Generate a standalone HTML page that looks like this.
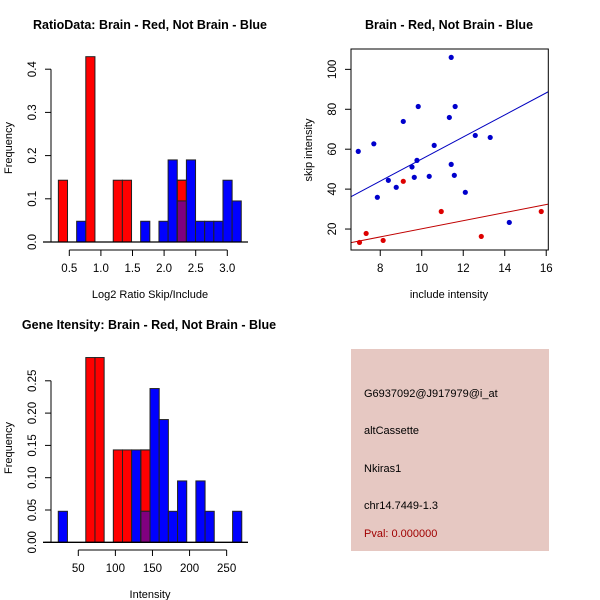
<!DOCTYPE html>
<html><head><meta charset="utf-8"><style>
html,body{margin:0;padding:0;background:#fff;}
svg{display:block;font-family:"Liberation Sans",sans-serif;}
</style></head><body>
<svg id="s" width="600" height="600" viewBox="0 0 600 600" xmlns="http://www.w3.org/2000/svg">
<rect x="0" y="0" width="600" height="600" fill="#fff"/>
<g id="h1"></g>
<g id="sc"></g>
<g id="h2"></g>
<g>
<rect x="351" y="349" width="198" height="202" fill="#E6C8C2"/>
<text x="364" y="397" font-size="11" fill="#000">G6937092@J917979@i_at</text>
<text x="364" y="434" font-size="11" fill="#000">altCassette</text>
<text x="364" y="472" font-size="11" fill="#000">Nkiras1</text>
<text x="364" y="509" font-size="11" fill="#000">chr14.7449-1.3</text>
<text x="364" y="537" font-size="11" fill="#A00000">Pval: 0.000000</text>
</g>
</svg>
<script>
// ---- Histogram 1 data (RatioData) ----
const h1Start = 0.327, h1Width = 0.1447;
const h1Red  = [0.143,0,0,0.429,0,0,0.143,0.143,0,0,0,0,0,0.143,0,0,0,0,0,0];
const h1Blue = [0,0,0.048,0,0,0,0,0,0,0.048,0,0.048,0.19,0.095,0.19,0.048,0.048,0.048,0.143,0.095];
const h1YTicks = [0,0.1,0.2,0.3,0.4];
const h1XTicks = [0.5,1.0,1.5,2.0,2.5,3.0];
const h1XLabels = ["0.5","1.0","1.5","2.0","2.5","3.0"];
// ---- Histogram 2 data (Gene intensity) ----
const h2Start = 23, h2Width = 12.37;
const h2Red  = [0,0,0,0.286,0.286,0,0.143,0.143,0,0.143,0,0,0,0,0,0,0,0,0,0];
const h2Blue = [0.048,0,0,0,0,0,0,0,0.143,0.048,0.238,0.19,0.048,0.095,0,0.095,0.048,0,0,0.048];
const h2YTicks = [0,0.05,0.10,0.15,0.20,0.25];
const h2YLabels = ["0.00","0.05","0.10","0.15","0.20","0.25"];
const h2XTicks = [50,100,150,200,250];
// ---- Scatter data ----
const blueX = [6.94,7.69,7.86,8.39,8.77,9.11,9.53,9.64,9.77,9.83,10.36,10.6,11.33,11.42,11.42,11.57,11.61,12.1,12.58,13.3,14.22];
const blueY = [58.9,62.7,35.9,44.4,40.9,73.9,51.1,45.9,54.4,81.4,46.4,61.9,75.9,106,52.4,46.9,81.4,38.4,66.9,65.9,23.3];
const redX = [7.0,7.32,8.14,9.11,10.94,12.87,15.76];
const redY = [13.3,17.8,14.3,43.9,28.8,16.3,28.8];
const blueFit = [-0.24,5.53];
const redFit = [-0.18,2.03];
const scXTicks = [8,10,12,14,16];
const scYTicks = [20,40,60,80,100];

const NS="http://www.w3.org/2000/svg";
function mk(parent,tag,attrs,txt){const e=document.createElementNS(NS,tag);for(const k in attrs)e.setAttribute(k,attrs[k]);if(txt!==undefined)e.textContent=txt;parent.appendChild(e);return e;}

function hist(g,o){
  const sx=v=>o.px0+(v-o.vx0)*o.kx, sy=v=>o.py0-v*o.ky;
  const t=mk(g,'text',{x:o.tx,y:o.ty,'font-size':12.5,'font-weight':'bold','text-anchor':'middle'},o.title);
  
  for(let i=0;i<o.red.length;i++){
    const x0=sx(o.start+i*o.w),x1=sx(o.start+(i+1)*o.w);
    const r=o.red[i],b=o.blue[i];
    if(r>0){const e=mk(g,'rect',{x:x0,y:sy(r),width:x1-x0,height:sy(0)-sy(r),fill:'#FF0000',stroke:'#222','stroke-width':1});
      }
    if(b>0){const e=mk(g,'rect',{x:x0,y:sy(b),width:x1-x0,height:sy(0)-sy(b),fill:'#0000FF',stroke:'#222','stroke-width':1});
      }
    if(r>0&&b>0){const m=Math.min(r,b);const e=mk(g,'rect',{x:x0,y:sy(m),width:x1-x0,height:sy(0)-sy(m),fill:'#80007F',stroke:'#222','stroke-width':1});
      
      if(r>b){mk(g,'rect',{x:x0,y:sy(r),width:x1-x0,height:sy(0)-sy(r),fill:'none',stroke:'#222','stroke-width':1});}}
  }
  const bl=mk(g,'line',{x1:43,y1:sy(0),x2:248,y2:sy(0),stroke:'#000','stroke-width':1.3});
  
  const ya=mk(g,'line',{x1:51,y1:sy(o.yt[0]),x2:51,y2:sy(o.yt[o.yt.length-1]),stroke:'#000'});
  
  o.yt.forEach((v,i)=>{mk(g,'line',{x1:45,y1:sy(v),x2:51,y2:sy(v),stroke:'#000'});
    const l=mk(g,'text',{x:0,y:0,'font-size':11.5,'text-anchor':'middle',transform:`translate(36,${sy(v)}) rotate(-90)`},o.yl[i]);
    });
  const xa=mk(g,'line',{x1:sx(o.xt[0]),y1:o.axY,x2:sx(o.xt[o.xt.length-1]),y2:o.axY,stroke:'#000'});
  
  o.xt.forEach((v,i)=>{mk(g,'line',{x1:sx(v),y1:o.axY,x2:sx(v),y2:o.axY+6,stroke:'#000'});
    const l=mk(g,'text',{x:sx(v),y:o.axY+22,'font-size':11.5,'text-anchor':'middle'},o.xl[i]);
    });
  const xt=mk(g,'text',{x:150,y:o.xlabY,'font-size':11,'text-anchor':'middle'},o.xlab);
  
  const yt=mk(g,'text',{x:0,y:0,'font-size':11,'text-anchor':'middle',transform:`translate(12,${o.ylabY}) rotate(-90)`},'Frequency');
  
}

hist(document.getElementById('h1'),{title:'RatioData: Brain - Red, Not Brain - Blue',tx:150,ty:29,
  px0:69.3,vx0:0.5,kx:63.2,py0:242,ky:432,start:h1Start,w:h1Width,red:h1Red,blue:h1Blue,
  yt:h1YTicks,yl:h1YTicks.map(v=>v.toFixed(1)),xt:h1XTicks,xl:h1XLabels,axY:250,xlab:'Log2 Ratio Skip/Include',xlabY:298,ylabY:148});
hist(document.getElementById('h2'),{title:'Gene Itensity: Brain - Red, Not Brain - Blue',tx:149,ty:329,
  px0:78.3,vx0:50,kx:0.7417,py0:542.3,ky:646,start:h2Start,w:h2Width,red:h2Red,blue:h2Blue,
  yt:h2YTicks,yl:h2YLabels,xt:h2XTicks,xl:h2XTicks.map(String),axY:550,xlab:'Intensity',xlabY:598,ylabY:448});

(function(){
  const g=document.getElementById('sc');
  const X0=6.59,X1=16.1,Y0=9.5,Y1=110.2,L=351,R=548.3,T=49,B=250;
  const sx=v=>L+(v-X0)/(X1-X0)*(R-L), sy=v=>B-(v-Y0)/(Y1-Y0)*(B-T);
  const t=mk(g,'text',{x:449,y:29,'font-size':12.5,'font-weight':'bold','text-anchor':'middle'},'Brain - Red, Not Brain - Blue');
  
  const cp=mk(g,'clipPath',{id:'cp'});mk(cp,'rect',{x:L,y:T,width:R-L,height:B-T});
  const bf=mk(g,'line',{x1:sx(X0),y1:sy(blueFit[0]+blueFit[1]*X0),x2:sx(X1),y2:sy(blueFit[0]+blueFit[1]*X1),stroke:'#0000C0','stroke-width':1,'clip-path':'url(#cp)'});
  
  const rf=mk(g,'line',{x1:sx(X0),y1:sy(redFit[0]+redFit[1]*X0),x2:sx(X1),y2:sy(redFit[0]+redFit[1]*X1),stroke:'#C00000','stroke-width':1,'clip-path':'url(#cp)'});
  
  blueX.forEach((x,i)=>{const c=mk(g,'circle',{cx:sx(x),cy:sy(blueY[i]),r:2.6,fill:'#0000CC'});
    });
  redX.forEach((x,i)=>{const c=mk(g,'circle',{cx:sx(x),cy:sy(redY[i]),r:2.6,fill:'#DD0000'});
    });
  const box=mk(g,'rect',{x:L,y:T,width:R-L,height:B-T,fill:'none',stroke:'#000'});
  
  scXTicks.forEach(v=>{mk(g,'line',{x1:sx(v),y1:B,x2:sx(v),y2:B+6,stroke:'#000'});
    const l=mk(g,'text',{x:sx(v),y:B+22,'font-size':11.5,'text-anchor':'middle'},String(v));
    });
  scYTicks.forEach(v=>{mk(g,'line',{x1:L-6,y1:sy(v),x2:L,y2:sy(v),stroke:'#000'});
    const l=mk(g,'text',{x:0,y:0,'font-size':11.5,'text-anchor':'middle',transform:`translate(336,${sy(v)}) rotate(-90)`},String(v));
    });
  const xt=mk(g,'text',{x:449,y:298,'font-size':11,'text-anchor':'middle'},'include intensity');
  
  const yt=mk(g,'text',{x:0,y:0,'font-size':11,'text-anchor':'middle',transform:'translate(312,150) rotate(-90)'},'skip intensity');
  
})();
</script>
</body></html>
